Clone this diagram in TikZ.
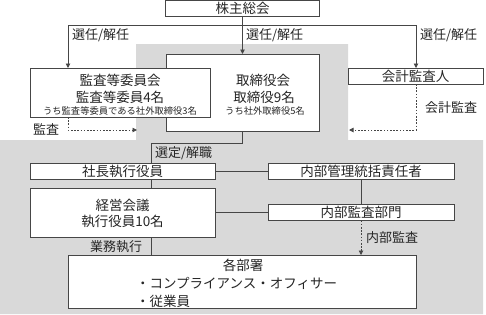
\documentclass[tikz,border=0pt]{standalone}
\usepackage{fontspec}
\newfontfamily\jp{Noto Sans CJK JP}
\usetikzlibrary{arrows.meta}
\definecolor{bggray}{RGB}{217,217,217}
\definecolor{linegray}{RGB}{70,70,70}
\begin{document}
\begin{tikzpicture}[x=1pt,y=-1pt,
  font=\jp,
  every node/.style={inner sep=0pt,outer sep=0pt,text=black!85},
  box/.style={draw=linegray,line width=0.9pt,fill=white,anchor=center,font=\jp\fontsize{13.5}{16}\selectfont},
  txt/.style={font=\jp\fontsize{13.5}{16}\selectfont},
  lbl/.style={font=\jp\fontsize{13}{15}\selectfont,anchor=west},
  small/.style={font=\jp\fontsize{9.3}{11}\selectfont},
  conn/.style={draw=linegray,line width=0.9pt},
  arr/.style={-{Triangle[length=4.5pt,width=4.5pt]}},
  dots/.style={dash pattern=on 1.6pt off 1.6pt}
]
\useasboundingbox (0,0) rectangle (486,314);
% gray background
\fill[bggray] (136,44) -- (348,44) -- (348,140) -- (483,140) -- (483,314) -- (0,314) -- (0,140) -- (136,140) -- cycle;

% boxes
\node[box,minimum width=154pt,minimum height=16pt] (kabu) at (242.5,8.5) {株主総会};
\node[box,minimum width=153pt,minimum height=77pt] (tori) at (242.5,92.5) {};
\node[box,minimum width=180pt,minimum height=49pt] (kansa) at (120,92.5) {};
\node[box,minimum width=135pt,minimum height=16pt] (kaikei) at (415.5,76) {会計監査人};
\node[box,minimum width=185pt,minimum height=16pt] (shacho) at (122.5,171) {社長執行役員};
\node[box,minimum width=185pt,minimum height=49pt] (keiei) at (122.5,212.5) {};
\node[box,minimum width=186pt,minimum height=16pt] (naibu) at (361,171) {内部管理統括責任者};
\node[box,minimum width=186pt,minimum height=16pt] (naikansa) at (361,212.5) {内部監査部門};
\node[box,minimum width=348pt,minimum height=53pt] (kakubu) at (242,281.5) {};

% texts inside multi-line boxes
\node[txt] (kansa1) at (120,80) {監査等委員会};
\node[txt] (kansa2) at (120,97) {監査等委員4名};
\node[small] (kansa3) at (120,111) {うち監査等委員である社外取締役3名};
\node[txt] (tori1) at (263,80) {取締役会};
\node[txt] (tori2) at (264,97) {取締役9名};
\node[small] (tori3) at (265,111) {うち社外取締役5名};
\node[txt] (keiei1) at (122.5,205) {経営会議};
\node[txt] (keiei2) at (122.5,221) {執行役員10名};
\node[txt] (kaku1) at (243,265) {各部署};
\node[txt,anchor=west] (kaku2) at (136,283) {・コンプライアンス・オフィサー};
\node[txt,anchor=west] (kaku3) at (136,301) {・従業員};

% coordinates
\coordinate (jL) at (68,25);
\coordinate (jR) at (416,25);
\coordinate (kansaEnd) at (137,130);
\coordinate (kaikeiEnd) at (349,130);
\coordinate (bend) at (151,143);

% connectors
\draw[conn] (jL) -- (jR);
\draw[conn,arr] (kabu.south) -- (tori.north);
\draw[conn,arr] (jL) -- (kansa.north -| jL);
\draw[conn,arr] (jR) -- (kaikei.north -| jR);
\draw[conn,dots,arr] (kansa.south -| jL) |- (kansaEnd);
\draw[conn,dots,arr] (kaikei.south -| jR) |- (kaikeiEnd);
\draw[conn] (tori.south) |- (bend) -- (shacho.north -| bend);
\draw[conn] (shacho.south -| bend) -- (keiei.north -| bend);
\draw[conn] (keiei.south -| bend) -- (kakubu.north -| bend);
\draw[conn] (shacho.east) -- (naibu.west);
\draw[conn] (keiei.east) -- (naikansa.west);
\draw[conn] (naibu.south) -- (naikansa.north);
\draw[conn,dots,arr] (naikansa.south) -- (kakubu.north -| naikansa.south);

% labels
\node[lbl] (l1) at (72,35) {選任/解任};
\node[lbl] (l2) at (246,35) {選任/解任};
\node[lbl] (l3) at (420,35) {選任/解任};
\node[lbl] (l4) at (33,129) {監査};
\node[lbl] (l5) at (425,108) {会計監査};
\node[lbl] (l6) at (155,153) {選定/解職};
\node[lbl] (l7) at (90,247) {業務執行};
\node[lbl] (l8) at (366,238) {内部監査};
\end{tikzpicture}
\end{document}
